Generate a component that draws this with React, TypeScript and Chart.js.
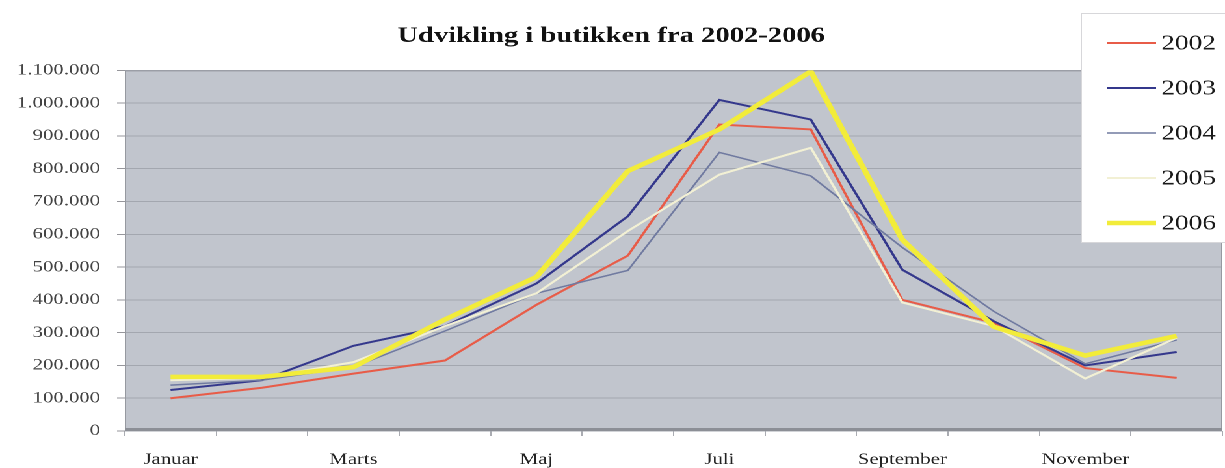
import React, { useEffect, useRef } from 'react';
import { Chart, registerables } from 'chart.js';

Chart.register(...registerables);

const months = ['Januar', 'Februar', 'Marts', 'April', 'Maj', 'Juni', 'Juli', 'August', 'September', 'Oktober', 'November', 'December'];
const years = ['2002', '2003', '2004', '2005', '2006'];
const s2002 = [100000, 132000, 175000, 215000, 385000, 535000, 935000, 920000, 400000, 330000, 192000, 162000];
const s2003 = [125000, 155000, 260000, 320000, 450000, 655000, 1010000, 950000, 492000, 335000, 200000, 241000];
const s2004 = [140000, 155000, 195000, 305000, 420000, 490000, 850000, 778000, 560000, 365000, 205000, 278000];
const s2005 = [155000, 162000, 210000, 320000, 420000, 610000, 782000, 864000, 392000, 320000, 160000, 284000];
const s2006 = [165000, 165000, 195000, 340000, 470000, 793000, 920000, 1097000, 584000, 318000, 230000, 290000];
const seriesValues = [s2002, s2003, s2004, s2005, s2006];
const seriesColors = ['rgb(232,92,72)', 'rgb(52,56,140)', 'rgb(112,122,160)', 'rgb(242,240,212)', 'rgb(242,236,58)'];
const seriesWidths = [2, 2, 1.5, 2, 4.5];
const yMax = 1100000;
const yStep = 100000;
const title = 'Udvikling i butikken fra 2002-2006';

const W = 942;
const H = 468;
const SX = 1225 / W;
const FONT = '"Liberation Serif", "Times New Roman", serif';

const fmt = (v: number) => String(Math.round(v)).replace(/\B(?=(\d{3})+(?!\d))/g, '.');

const bgPlugin = {
  id: 'plotBg',
  beforeDraw(chart: any) {
    const { ctx, chartArea: a } = chart;
    ctx.save();
    ctx.fillStyle = '#ffffff';
    ctx.fillRect(0, 0, chart.width, chart.height);
    ctx.fillStyle = 'rgb(193,197,205)';
    ctx.fillRect(a.left, a.top, a.right - a.left, a.bottom - a.top);
    ctx.restore();
  },
  beforeDatasetsDraw(chart: any) {
    const { ctx, chartArea: a } = chart;
    ctx.save();
    ctx.strokeStyle = 'rgb(150,153,160)';
    ctx.lineWidth = 1;
    ctx.strokeRect(a.left + 0.5, a.top + 0.5, a.right - a.left - 1, a.bottom - a.top - 1);
    ctx.strokeStyle = 'rgb(140,143,150)';
    ctx.lineWidth = 3;
    ctx.beginPath();
    ctx.moveTo(a.left, a.bottom - 1.5);
    ctx.lineTo(a.right, a.bottom - 1.5);
    ctx.stroke();
    ctx.restore();
  },
};

const legendPlugin = {
  id: 'boxLegend',
  afterDraw(chart: any) {
    const { ctx } = chart;
    ctx.save();
    ctx.fillStyle = '#ffffff';
    ctx.fillRect(831, 13, 130, 229);
    ctx.strokeStyle = 'rgb(215,215,218)';
    ctx.lineWidth = 1;
    ctx.strokeRect(831.5, 13.5, 130, 229);
    chart.data.datasets.forEach((ds: any, i: number) => {
      const y = 43 + i * 45;
      ctx.strokeStyle = ds.borderColor;
      ctx.lineWidth = ds.borderWidth;
      ctx.beginPath();
      ctx.moveTo(851, y);
      ctx.lineTo(889, y);
      ctx.stroke();
      ctx.fillStyle = '#1a1a1a';
      ctx.font = `21px ${FONT}`;
      ctx.textBaseline = 'middle';
      ctx.textAlign = 'left';
      ctx.fillText(ds.label, 893, y + 1);
    });
    ctx.restore();
  },
};

export default function App() {
  const ref = useRef<HTMLCanvasElement | null>(null);
  useEffect(() => {
    if (!ref.current) return;
    const chart = new Chart(ref.current, {
      type: 'line',
      data: {
        labels: months,
        datasets: years.map((y, i) => ({
          label: y,
          data: seriesValues[i],
          borderColor: seriesColors[i],
          backgroundColor: seriesColors[i],
          borderWidth: seriesWidths[i],
          pointRadius: 0,
          tension: 0,
          fill: false,
          order: years.length - i,
        })),
      },
      options: {
        animation: false,
        responsive: false,
        devicePixelRatio: 2,
        layout: { padding: { left: 0, right: 2, top: 0, bottom: 0 } },
        plugins: {
          legend: { display: false },
          tooltip: { enabled: false },
          title: {
            display: true,
            text: title,
            color: '#111',
            font: { family: FONT, size: 22, weight: 'bold' },
            padding: { top: 23, bottom: 21 },
          },
        },
        scales: {
          x: {
            offset: true,
            grid: {
              offset: true,
              drawOnChartArea: false,
              drawTicks: true,
              tickLength: 5,
              color: 'rgb(170,172,178)',
            },
            border: { display: false },
            ticks: {
              autoSkip: false,
              maxRotation: 0,
              padding: 14,
              color: '#222',
              font: { family: FONT, size: 16 },
              callback: (_v: any, i: number) => (i % 2 === 0 ? months[i] : ''),
            },
            afterFit: (s: any) => {
              s.height = 37;
            },
          },
          y: {
            min: 0,
            max: yMax,
            grid: {
              color: 'rgb(163,167,175)',
              drawTicks: true,
              tickLength: 6,
              tickColor: 'rgb(150,150,155)',
            },
            border: { display: false },
            ticks: {
              stepSize: yStep,
              padding: 13,
              color: '#444',
              font: { family: FONT, size: 16 },
              callback: (v: any) => fmt(Number(v)),
            },
            afterFit: (s: any) => {
              s.width = 96;
            },
          },
        },
      },
      plugins: [bgPlugin, legendPlugin],
    } as any);
    return () => chart.destroy();
  }, []);

  return (
    <div
      style={{
        position: 'fixed',
        left: 0,
        top: 0,
        width: W,
        height: H,
        transform: `scaleX(${SX})`,
        transformOrigin: '0 0',
        background: '#fff',
        overflow: 'hidden',
      }}
    >
      <canvas ref={ref} width={W} height={H} style={{ width: W, height: H, display: 'block' }} />
    </div>
  );
}
